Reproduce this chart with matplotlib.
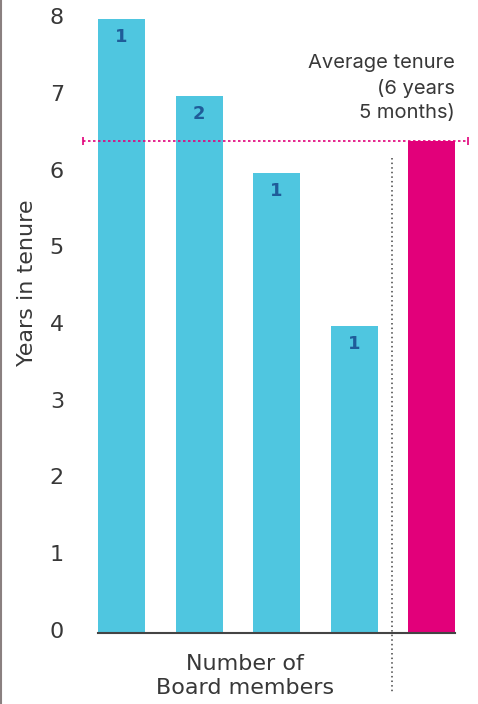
import matplotlib.pyplot as plt
from matplotlib.lines import Line2D
from matplotlib.transforms import ScaledTranslation

# Board tenure data
tenure_years = [8, 7, 6, 4]
member_counts = [1, 2, 1, 1]
average_tenure = 6 + 5 / 12
average_label = "Average tenure\n(6 years\n5 months)"
y_ticks = [0, 1, 2, 3, 4, 5, 6, 7, 8]

bar_color = "#4fc6e0"
avg_color = "#e2007a"
count_color = "#1f5c99"
text_color = "#383838"
font = "DejaVu Sans"

W, H = 478, 704
fig = plt.figure(figsize=(W / 100, H / 100), dpi=100)

# axes placed in pixel terms
left_px, right_px = 83, 468
base_px = 633
unit_px = 76.75
ymax = 8.15
ax = fig.add_axes([left_px / W, (H - base_px) / H,
                   (right_px - left_px) / W, ymax * unit_px / H])

spacing = 77.5
first_px = 121.5
ax.set_xlim((left_px - first_px) / spacing, (right_px - first_px) / spacing)
ax.set_ylim(0, ymax)

width = 47 / spacing
xs = list(range(len(tenure_years)))
ax.bar(xs, tenure_years, width=width, color=bar_color, zorder=2)
avg_x = len(tenure_years)
ax.bar([avg_x], [average_tenure], width=width, color=avg_color, zorder=2)

for x, v, n in zip(xs, tenure_years, member_counts):
    ax.text(x, v - 0.24, str(n), ha="center", va="center", color=count_color,
            fontsize=13, fontweight="bold", family=font)

# average line with small end caps
ax.axhline(average_tenure, color=avg_color, lw=1.2, ls=(0, (1.5, 1.5)), zorder=3)
x0, x1 = ax.get_xlim()
ax.plot([x0 + 0.005, x1 - 0.005], [average_tenure] * 2, ls="none", marker="|",
        ms=6, mew=1.2, color=avg_color, clip_on=False, zorder=3)

# separator before the average bar
sep_x = (392 - first_px) / spacing
ax.plot([sep_x, sep_x], [(base_px - 158) / unit_px, (base_px - 692) / unit_px],
        color="#444444", lw=1.1, ls=(0, (1, 2)), clip_on=False, zorder=3)

# baseline
ax.plot([-width / 2 - 0.005, avg_x + width / 2 + 0.005], [0, 0], color="#444444",
        lw=1.5, clip_on=False, zorder=4)

ax.text(avg_x + width / 2, average_tenure + 0.24, average_label, ha="right",
        va="bottom", fontsize=14.5, color=text_color, family="Inter",
        linespacing=1.45)

for s in ax.spines.values():
    s.set_visible(False)
ax.set_xticks([])
ax.set_yticks(y_ticks)
ax.set_yticklabels([str(t) for t in y_ticks], fontsize=16, color=text_color,
                   family=font)
ax.tick_params(axis="y", length=0, pad=13.7)
# nudge tick labels up a little
lift = ScaledTranslation(0, 3 / 100, fig.dpi_scale_trans)
for lbl in ax.get_yticklabels():
    lbl.set_transform(lbl.get_transform() + lift)

fig.text(27 / W, 1 - 283 / H, "Years in tenure", rotation=90, ha="center",
         va="center", fontsize=16, color=text_color, family=font)
fig.text(245 / W, 1 - 676 / H, "Number of\nBoard members", ha="center",
         va="center", fontsize=16, color=text_color, family=font,
         linespacing=1.3)

# thin frame line on the left edge
fig.add_artist(Line2D([1.2 / W, 1.2 / W], [0, 1], color="#8a8080", lw=1.5,
                      transform=fig.transFigure))

fig.savefig("out.png", dpi=100)
